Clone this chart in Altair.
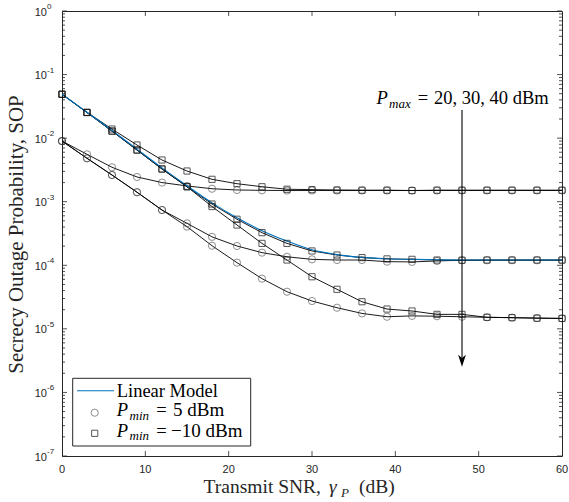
import altair as alt
import pandas as pd

# ---------------- data ----------------
snr_db = list(range(0, 61, 3))

sop_sq_pmax20 = [0.049, 0.0255, 0.0139, 0.0078, 0.00453, 0.00304, 0.00225, 0.00192, 0.00172, 0.00157,
                 0.00155, 0.00153, 0.00152, 0.00152, 0.00150, 0.00152, 0.00152, 0.00152, 0.00152, 0.00152, 0.00152]
sop_ci_pmax20 = [0.009, 0.00557, 0.00348, 0.00245, 0.0020, 0.00177, 0.0016, 0.00153, 0.00151, 0.0015,
                 0.0015, 0.0015, 0.0015, 0.0015, 0.0015, 0.0015, 0.0015, 0.0015, 0.0015, 0.0015, 0.0015]
sop_sq_pmax30 = [0.049, 0.0253, 0.0129, 0.0065, 0.00327, 0.00172, 0.00092, 0.00053, 0.000326, 0.000221,
                 0.000168, 0.000145, 0.000132, 0.000126, 0.000124, 0.000121, 0.00012, 0.000121, 0.000121, 0.000121, 0.000121]
sop_ci_pmax30 = [0.009, 0.00482, 0.00263, 0.00141, 0.00074, 0.000457, 0.00028, 0.000201, 0.000158, 0.000136,
                 0.000124, 0.000121, 0.000121, 0.000114, 0.000113, 0.000117, 0.00012, 0.00012, 0.00012, 0.00012, 0.00012]
sop_sq_pmax40 = [0.049, 0.0253, 0.0129, 0.0065, 0.00327, 0.00172, 0.00084, 0.00043, 0.000221, 0.000121,
                 6.6e-5, 4.19e-5, 2.67e-5, 2.05e-5, 1.91e-5, 1.69e-5, 1.69e-5, 1.52e-5, 1.5e-5, 1.47e-5, 1.46e-5]
sop_ci_pmax40 = [0.009, 0.00482, 0.00263, 0.00141, 0.00074, 0.000405, 0.000203, 0.00011, 6.16e-5, 3.84e-5,
                 2.74e-5, 2.15e-5, 1.75e-5, 1.55e-5, 1.6e-5, 1.58e-5, 1.55e-5, 1.52e-5, 1.5e-5, 1.48e-5, 1.46e-5]
sop_linear = [0.049, 0.0256, 0.0132, 0.0067, 0.0034, 0.00178, 0.00096, 0.00056, 0.00035, 0.00024,
              0.000175, 0.000147, 0.000133, 0.000127, 0.000124, 0.000122, 0.000121, 0.000121, 0.000121, 0.000121, 0.000121]

x_ticks = [0, 10, 20, 30, 40, 50, 60]
y_major = [1e0, 1e-1, 1e-2, 1e-3, 1e-4, 1e-5, 1e-6, 1e-7]
y_exp_labels = ["0", "-1", "-2", "-3", "-4", "-5", "-6", "-7"]
y_minor = [k * 10.0 ** e for e in range(-7, 0) for k in range(2, 10)]

arrow_x = [48]
arrow_top = [0.0277]
arrow_bottom = [3.3e-6]
arrow_head = [3.16e-6]

# ---------------- layout constants ----------------
W, H = 500, 445
SERIF = "Liberation Serif"
SANS = "Liberation Sans"
AX = "#262626"

xs = alt.Scale(domain=[0, 60], nice=False)
ys = alt.Scale(type="log", domain=[1e-7, 1], nice=False)
X = alt.X("x:Q", scale=xs, axis=None)
Y = alt.Y("y:Q", scale=ys, axis=None)

rows = []
for name, mk, vals in [("sq20", "square", sop_sq_pmax20), ("ci20", "circle", sop_ci_pmax20),
                       ("sq30", "square", sop_sq_pmax30), ("ci30", "circle", sop_ci_pmax30),
                       ("sq40", "square", sop_sq_pmax40), ("ci40", "circle", sop_ci_pmax40)]:
    for xv, yv in zip(snr_db, vals):
        rows.append({"x": xv, "y": yv, "series": name, "marker": mk})
curves = pd.DataFrame(rows)
lin = pd.DataFrame({"x": snr_db, "y": sop_linear})
one = pd.DataFrame({"k": [0]})

layers = []

# black lines
layers.append(alt.Chart(curves).mark_line(color="black", strokeWidth=0.9).encode(
    x=X, y=Y, detail="series:N"))
# blue linear model
layers.append(alt.Chart(lin).mark_line(color="#0072BD", strokeWidth=1.1, interpolate="monotone").encode(x=X, y=Y))
# markers
layers.append(alt.Chart(curves).transform_filter(alt.datum.marker == "circle").mark_point(
    shape="circle", size=52, filled=False, stroke="#3a3a3a", strokeWidth=0.8).encode(x=X, y=Y))
layers.append(alt.Chart(curves).transform_filter(alt.datum.marker == "square").mark_point(
    shape="square", size=38, filled=False, stroke="#111111", strokeWidth=1.0).encode(x=X, y=Y))

# arrow annotation
arr = pd.DataFrame({"x": arrow_x, "y": arrow_top, "y2": arrow_bottom})
layers.append(alt.Chart(arr).mark_rule(color="black", strokeWidth=1.1).encode(x=X, y=Y, y2="y2:Q"))
head = pd.DataFrame({"x": arrow_x, "y": arrow_head})
layers.append(alt.Chart(head).mark_point(
    shape="M0,1 L-0.65,-1 L0,-0.45 L0.65,-1 Z", size=144, filled=True, color="black", opacity=1).encode(x=X, y=Y))

# annotation text P_max = 20, 30, 40 dBm
layers.append(alt.Chart(one).mark_text(text="P", font=SERIF, fontStyle="italic", fontSize=18.5,
                                       align="left", baseline="alphabetic", color="black").encode(
    x=alt.value(314.5), y=alt.value(93)))
layers.append(alt.Chart(one).mark_text(text="max", font=SERIF, fontStyle="italic", fontSize=13,
                                       align="left", baseline="alphabetic", color="black").encode(
    x=alt.value(327), y=alt.value(96.5)))
layers.append(alt.Chart(one).mark_text(text="=", font=SERIF, fontSize=18.5,
                                       align="center", baseline="alphabetic", color="black").encode(
    x=alt.value(361), y=alt.value(93)))
layers.append(alt.Chart(one).mark_text(text="20, 30, 40 dBm", font=SERIF, fontSize=18.5,
                                       align="left", baseline="alphabetic", color="black").encode(
    x=alt.value(372), y=alt.value(93)))

# ticks (inward)
ymaj = pd.DataFrame({"y": y_major})
ymin = pd.DataFrame({"y": y_minor})
xt = pd.DataFrame({"x": x_ticks[1:-1]})
for df, ln in [(ymaj, 5), (ymin, 3)]:
    layers.append(alt.Chart(df).mark_rule(color=AX, strokeWidth=0.8).encode(
        y=Y, x=alt.value(0), x2=alt.value(ln)))
    layers.append(alt.Chart(df).mark_rule(color=AX, strokeWidth=0.8).encode(
        y=Y, x=alt.value(W - ln), x2=alt.value(W)))
layers.append(alt.Chart(xt).mark_rule(color=AX, strokeWidth=0.8).encode(
    x=X, y=alt.value(H), y2=alt.value(H - 5)))
layers.append(alt.Chart(xt).mark_rule(color=AX, strokeWidth=0.8).encode(
    x=X, y=alt.value(0), y2=alt.value(5)))

# tick labels
ylab = pd.DataFrame({"y": y_major, "base": ["10"] * len(y_major), "exp": y_exp_labels})
layers.append(alt.Chart(ylab).mark_text(font=SANS, fontSize=11, align="right", baseline="middle",
                                        dy=1.5, color=AX).encode(y=Y, x=alt.value(-15), text="base:N"))
layers.append(alt.Chart(ylab).mark_text(font=SANS, fontSize=8, align="left", baseline="middle",
                                        dy=-4, color=AX).encode(y=Y, x=alt.value(-15), text="exp:N"))
xlab = pd.DataFrame({"x": x_ticks, "lab": [str(v) for v in x_ticks]})
layers.append(alt.Chart(xlab).mark_text(font=SANS, fontSize=11, align="center", baseline="middle",
                                        color=AX).encode(x=X, y=alt.value(H + 14), text="lab:N"))

# axis titles
layers.append(alt.Chart(one).mark_text(text="Secrecy Outage Probability, SOP", font=SERIF, fontSize=21,
                                       angle=270, align="center", baseline="middle", color=AX).encode(
    x=alt.value(-45), y=alt.value(H / 2 + 1)))
layers.append(alt.Chart(one).mark_text(text="Transmit SNR,", font=SERIF, fontSize=19.5,
                                       align="right", baseline="alphabetic", color=AX).encode(
    x=alt.value(259), y=alt.value(482)))
layers.append(alt.Chart(one).mark_text(text="γ", font=SERIF, fontStyle="italic", fontSize=19.5,
                                       align="left", baseline="alphabetic", color=AX).encode(
    x=alt.value(267), y=alt.value(482)))
layers.append(alt.Chart(one).mark_text(text="P", font=SERIF, fontStyle="italic", fontSize=13,
                                       align="left", baseline="alphabetic", color=AX).encode(
    x=alt.value(279), y=alt.value(486)))
layers.append(alt.Chart(one).mark_text(text="(dB)", font=SERIF, fontSize=19.5,
                                       align="left", baseline="alphabetic", color=AX).encode(
    x=alt.value(297), y=alt.value(482)))

# legend
layers.append(alt.Chart(one).mark_rect(fill="white", stroke=AX, strokeWidth=1).encode(
    x=alt.value(10.7), x2=alt.value(188.7), y=alt.value(367.3), y2=alt.value(435)))
layers.append(alt.Chart(one).mark_rule(color="#0072BD", strokeWidth=1.1).encode(
    x=alt.value(15), x2=alt.value(52), y=alt.value(379.7)))
layers.append(alt.Chart(one).mark_text(text="Linear Model", font=SERIF, fontSize=18.5,
                                       align="left", baseline="middle", color="black").encode(
    x=alt.value(54.7), y=alt.value(380)))
layers.append(alt.Chart(one).mark_point(shape="circle", size=52, filled=False, stroke="#3a3a3a",
                                        strokeWidth=0.8).encode(x=alt.value(32.7), y=alt.value(401.7)))
layers.append(alt.Chart(one).mark_point(shape="square", size=38, filled=False, stroke="#111111",
                                        strokeWidth=1.0).encode(x=alt.value(32.7), y=alt.value(422.3)))
for base_y, rest, rest_x in [(405, "5 dBm", 111), (425.7, "\u221210 dBm", 109)]:
    layers.append(alt.Chart(one).mark_text(text="P", font=SERIF, fontStyle="italic", fontSize=18.5,
                                           align="left", baseline="alphabetic", color="black").encode(
        x=alt.value(54.7), y=alt.value(base_y)))
    layers.append(alt.Chart(one).mark_text(text="min", font=SERIF, fontStyle="italic", fontSize=13,
                                           align="left", baseline="alphabetic", color="black").encode(
        x=alt.value(67.5), y=alt.value(base_y + 3.5)))
    layers.append(alt.Chart(one).mark_text(text="=", font=SERIF, fontSize=18.5,
                                           align="center", baseline="alphabetic", color="black").encode(
        x=alt.value(99.5), y=alt.value(base_y)))
    layers.append(alt.Chart(one).mark_text(text=rest, font=SERIF, fontSize=19,
                                           align="left", baseline="alphabetic", color="black").encode(
        x=alt.value(rest_x), y=alt.value(base_y)))

chart = alt.layer(*layers).properties(
    width=W, height=H,
    padding={"left": 62, "top": 11, "right": 7, "bottom": 46},
    autosize=alt.AutoSizeParams(type="none"),
    background="white",
).configure_view(stroke=AX, strokeWidth=1)

chart.save("out.html", embed_options={"renderer": "svg", "actions": False})
